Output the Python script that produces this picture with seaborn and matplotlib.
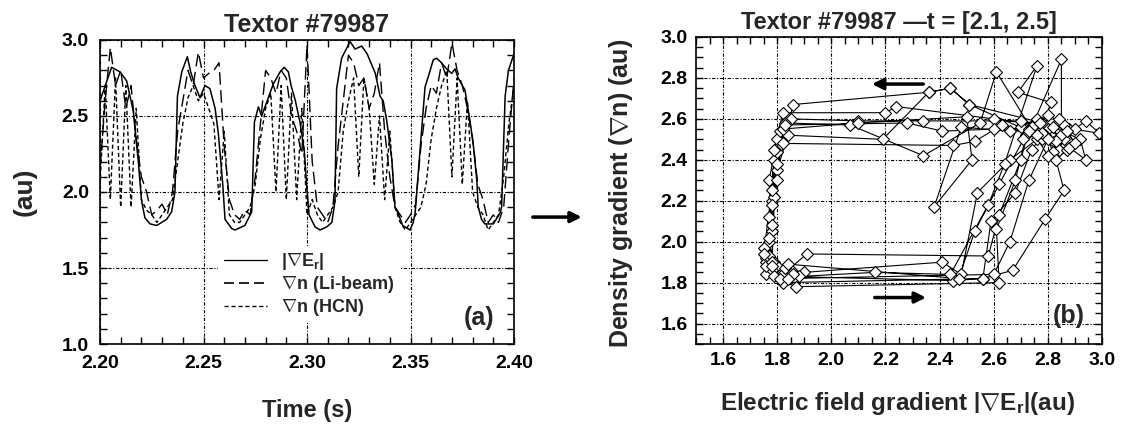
import numpy as np
import pandas as pd
import seaborn as sns
from matplotlib import pyplot as plt
from matplotlib.ticker import MultipleLocator
from matplotlib.lines import Line2D
from matplotlib.patches import FancyArrowPatch

# ---- panel (a): time traces ----
t_er = [2.2000, 2.2056, 2.2097, 2.2129, 2.2161, 2.2185, 2.2201, 2.2217, 2.2242, 2.2274,
        2.2322, 2.2346, 2.2362, 2.2374, 2.2395, 2.2422, 2.2438, 2.2459, 2.2483, 2.2507,
        2.2531, 2.2556, 2.2572, 2.2593, 2.2604, 2.2636, 2.2652, 2.2700, 2.2733, 2.2746,
        2.2765, 2.2781, 2.2805, 2.2837, 2.2870, 2.2890, 2.2910, 2.2923, 2.2942, 2.2966,
        2.2987, 2.2998, 2.3010, 2.3039, 2.3063, 2.3095, 2.3120, 2.3135, 2.3143, 2.3167,
        2.3208, 2.3232, 2.3264, 2.3290, 2.3330, 2.3353, 2.3368, 2.3385, 2.3410, 2.3425,
        2.3440, 2.3462, 2.3498, 2.3513, 2.3522, 2.3570, 2.3586, 2.3610, 2.3626, 2.3650,
        2.3674, 2.3699, 2.3715, 2.3730, 2.3763, 2.3787, 2.3804, 2.3820, 2.3827, 2.3843,
        2.3859, 2.3900, 2.3932, 2.3940, 2.3957, 2.3973, 2.4000]
er_grad = [2.60, 2.82, 2.79, 2.73, 2.53, 2.20, 1.94, 1.83, 1.79, 1.78,
           1.82, 1.87, 2.00, 2.63, 2.79, 2.89, 2.79, 2.70, 2.62, 2.70,
           2.68, 2.55, 2.38, 2.05, 1.82, 1.76, 1.75, 1.78, 1.87, 2.46,
           2.56, 2.50, 2.59, 2.71, 2.79, 2.82, 2.79, 2.70, 2.61, 2.46,
           2.27, 2.05, 1.85, 1.77, 1.75, 1.77, 1.80, 1.94, 2.68, 2.88,
           2.99, 2.94, 2.96, 2.91, 2.78, 2.63, 2.60, 2.47, 2.21, 1.90,
           1.86, 1.78, 1.75, 1.80, 1.86, 2.69, 2.76, 2.87, 2.88, 2.85,
           2.81, 2.78, 2.81, 2.75, 2.67, 2.47, 2.30, 2.08, 1.90, 1.82,
           1.79, 1.79, 1.86, 1.90, 2.63, 2.80, 2.91]

t_n = np.linspace(2.2, 2.4, 81)
n_libeam = [2.15, 2.60, 2.95, 2.70, 2.80, 2.55, 2.70, 2.35, 2.10, 2.00,
            1.85, 1.88, 1.92, 1.85, 2.00, 2.40, 2.60, 2.80, 2.70, 2.92,
            2.75, 2.78, 2.80, 2.85, 2.30, 1.95, 1.85, 1.82, 1.88, 1.85,
            2.10, 2.45, 2.80, 2.75, 2.65, 2.80, 2.75, 2.50, 2.40, 2.25,
            2.97, 2.20, 1.90, 1.85, 1.80, 1.90, 2.30, 2.60, 2.90, 2.85,
            2.70, 2.75, 2.55, 2.65, 2.85, 2.40, 2.10, 1.90, 1.85, 1.80,
            1.85, 1.92, 2.30, 2.55, 2.70, 2.65, 2.85, 2.75, 2.98, 2.80,
            2.70, 2.55, 2.35, 2.05, 1.95, 1.80, 1.85, 1.80, 1.90, 2.35,
            2.75]
n_hcn = [2.05, 2.70, 1.95, 2.75, 1.90, 2.70, 1.90, 2.55, 1.95, 1.88,
         1.85, 1.80, 1.85, 1.90, 1.95, 2.20, 2.45, 2.62, 2.70, 2.60,
         2.65, 2.55, 2.45, 1.95, 2.40, 1.85, 1.80, 1.80, 1.85, 1.90,
         2.05, 2.35, 2.55, 2.65, 2.00, 2.70, 1.95, 2.65, 1.95, 2.55,
         1.85, 1.95, 1.85, 1.80, 1.85, 1.90, 2.00, 2.40, 2.60, 2.75,
         2.10, 2.75, 2.55, 2.05, 2.50, 1.95, 2.40, 1.90, 1.80, 1.75,
         1.80, 1.85, 1.90, 2.05, 2.35, 2.55, 2.70, 2.80, 2.10, 2.75,
         2.05, 2.60, 2.00, 1.90, 1.85, 1.75, 1.80, 1.85, 2.10, 2.45,
         2.70]

# ---- panel (b): phase space trajectory ----
ps_er = [1.78, 1.76, 1.80, 1.84, 2.45, 2.56, 2.59, 2.68, 2.74, 2.80, 2.86, 2.78, 2.51, 2.44, 2.36, 1.86, 1.83, 1.80, 1.78, 1.77,
         1.79, 1.81, 1.76, 1.87, 2.62, 2.61, 2.68, 2.72, 2.76, 2.70, 2.84, 2.88, 2.60, 2.24, 2.20, 1.82, 1.80, 1.77, 1.78,
         1.75, 1.78, 1.82, 1.91, 2.58, 2.62, 2.70, 2.73, 2.79, 2.82, 2.90, 2.94, 2.99, 2.70, 2.34, 2.10, 1.85, 1.81, 1.79, 1.77,
         1.77, 1.80, 1.85, 1.90, 2.41, 2.48, 2.54, 2.66, 2.76, 2.74, 2.85, 2.85, 2.80, 2.61, 2.55, 2.34, 2.07, 1.83, 1.80, 1.79,
         1.78, 1.76, 1.83, 1.88, 2.16, 2.44, 2.58, 2.64, 2.76, 2.69, 2.81, 2.78, 2.87, 2.73, 2.51, 2.44, 2.36, 2.19, 1.84, 1.80, 1.78,
         1.76, 1.79, 1.82, 2.56, 2.67, 2.79, 2.86, 2.83, 2.88, 2.94, 2.92, 2.82, 2.66, 2.48, 2.38, 2.52, 2.50, 2.10, 1.82, 1.80, 1.77,
         1.78, 1.81, 1.86, 1.84, 2.47, 2.53, 2.62, 2.71, 2.77, 2.80, 2.86, 2.83, 2.78, 2.60, 2.41, 2.28, 1.83, 1.79, 1.78,
         1.75, 1.78, 1.84, 2.60, 2.66, 2.73, 2.80, 2.87, 2.90, 2.84, 2.76, 2.63, 2.53, 2.45, 1.82, 1.80, 1.78]
ps_n = [1.88, 1.92, 1.85, 1.83, 1.81, 1.82, 2.10, 2.24, 2.45, 2.55, 2.50, 2.58, 2.67, 2.75, 2.73, 2.67, 2.53, 2.46, 2.20, 2.00,
        1.90, 1.86, 1.84, 1.78, 1.80, 2.06, 2.30, 2.52, 2.60, 2.56, 2.45, 2.55, 2.60, 2.66, 2.63, 2.63, 2.50, 2.30, 2.05,
        1.97, 1.87, 1.84, 1.94, 1.93, 2.13, 2.40, 2.55, 2.52, 2.44, 2.55, 2.59, 2.53, 2.59, 2.59, 2.59, 2.60, 2.54, 2.40, 2.12,
        1.93, 1.88, 1.86, 1.85, 1.90, 1.84, 2.24, 2.40, 2.50, 2.56, 2.89, 2.52, 2.42, 2.83, 2.58, 2.42, 2.57, 2.58, 2.44, 2.22,
        1.86, 1.90, 1.87, 1.83, 1.85, 1.84, 2.18, 2.38, 2.86, 2.73, 2.68, 2.50, 2.45, 2.54, 2.67, 2.75, 2.73, 2.50, 2.52, 2.35, 2.08,
        1.88, 1.83, 1.80, 1.82, 1.86, 2.11, 2.25, 2.40, 2.46, 2.40, 2.50, 2.56, 2.54, 2.56, 2.17, 2.40, 2.61, 2.58, 2.55, 2.30, 2.02,
        1.90, 1.82, 1.84, 1.89, 1.82, 2.05, 2.28, 2.50, 2.58, 2.62, 2.57, 2.49, 2.53, 2.55, 2.54, 2.58, 2.57, 2.45, 2.25,
        1.94, 1.88, 1.82, 1.84, 2.00, 2.30, 2.50, 2.54, 2.48, 2.60, 2.52, 2.57, 2.49, 2.47, 2.48, 2.38, 2.18]

sns.set_style("ticks")
plt.rcParams["font.family"] = ["Liberation Sans", "DejaVu Sans"]
plt.rcParams["font.weight"] = "bold"
plt.rcParams["mathtext.fontset"] = "custom"
plt.rcParams["mathtext.rm"] = "Liberation Sans:bold"
plt.rcParams["mathtext.bf"] = "Liberation Sans:bold"
plt.rcParams["mathtext.default"] = "bf"

fig = plt.figure(figsize=(11.35, 4.29), dpi=100)
ax1 = fig.add_axes([0.0881, 0.1981, 0.3648, 0.7087])
ax2 = fig.add_axes([0.6132, 0.1981, 0.3577, 0.7157])

grid_ls = (0, (3, 1.5, 1, 1.5))
tick_fs = 14


def style_axes(ax, xmaj, xmin, ymaj, ymin, pad):
    ax.xaxis.set_major_locator(MultipleLocator(xmaj))
    ax.xaxis.set_minor_locator(MultipleLocator(xmin))
    ax.yaxis.set_major_locator(MultipleLocator(ymaj))
    ax.yaxis.set_minor_locator(MultipleLocator(ymin))
    ax.tick_params(which="both", direction="in", top=True, right=True,
                   length=5, width=1, colors="black", labelsize=tick_fs, pad=pad)
    for sp in ax.spines.values():
        sp.set_visible(True)
        sp.set_linewidth(1.2)
        sp.set_color("black")


# panel (a)
sns.lineplot(x=t_er, y=er_grad, ax=ax1, color="black", lw=1.1, estimator=None, sort=False)
sns.lineplot(x=t_n, y=n_libeam, ax=ax1, color="black", lw=1.0, estimator=None, sort=False,
             linestyle=(0, (9, 4)))
sns.lineplot(x=t_n, y=n_hcn, ax=ax1, color="black", lw=1.0, estimator=None, sort=False,
             linestyle=(0, (3, 2)))
style_axes(ax1, 0.05, 0.01, 0.5, 0.1, 8)
ax1.set_xticks([2.20, 2.25, 2.30, 2.35, 2.40])
ax1.set_yticks([1.0, 1.5, 2.0, 2.5, 3.0])
ax1.set_xticklabels(["2.20", "2.25", "2.30", "2.35", "2.40"], fontweight="bold", fontsize=tick_fs)
ax1.set_yticklabels(["1.0", "1.5", "2.0", "2.5", "3.0"], fontweight="bold", fontsize=tick_fs)
ax1.set_xlim(2.2, 2.4)
ax1.set_ylim(1.0, 3.0)
ax1.grid(True, which="major", color="black", lw=0.8, linestyle=grid_ls)
ax1.set_title("Textor #79987", fontsize=18, fontweight="bold", pad=6)
ax1.set_xlabel("Time (s)", fontsize=17, fontweight="bold")
ax1.xaxis.set_label_coords(0.5, -0.18)
ax1.set_ylabel("(au)", fontsize=19, fontweight="bold")
ax1.yaxis.set_label_coords(-0.152, 0.5)
handles = [Line2D([], [], color="black", lw=0.9),
           Line2D([], [], color="black", lw=1.2, linestyle=(0, (6, 3))),
           Line2D([], [], color="black", lw=1.0, linestyle=(0, (3, 2)))]
labels = [r"|$\nabla$E$_\mathbf{r}$|", r"$\nabla$n (Li-beam)", r"$\nabla$n (HCN)"]
ax1.legend(handles, labels, loc="center", bbox_to_anchor=(0.505, 0.195), frameon=True,
           facecolor="white", edgecolor="none", framealpha=1, fancybox=False,
           handlelength=2.4, handletextpad=0.8, labelspacing=0.1, borderpad=0.3,
           prop={"weight": "bold", "size": 13})
ax1.text(0.915, 0.085, "(a)", transform=ax1.transAxes, ha="center", va="center",
         fontsize=18, fontweight="bold")

# panel (b)
sns.lineplot(x=ps_er, y=ps_n, ax=ax2, sort=False, estimator=None, color="black", lw=0.8,
             marker="D", markersize=6, markerfacecolor="white", markeredgecolor="black",
             markeredgewidth=0.8)
style_axes(ax2, 0.2, 0.05, 0.2, 0.05, 6)
ticks_b = [1.6, 1.8, 2.0, 2.2, 2.4, 2.6, 2.8, 3.0]
ax2.set_xticks(ticks_b)
ax2.set_yticks(ticks_b)
ax2.set_xticklabels([f"{v:.1f}" for v in ticks_b], fontweight="bold", fontsize=tick_fs)
ax2.set_yticklabels([f"{v:.1f}" for v in ticks_b], fontweight="bold", fontsize=tick_fs)
ax2.set_xlim(1.5, 3.0)
ax2.set_ylim(1.5, 3.0)
ax2.grid(True, which="major", color="black", lw=0.8, linestyle=grid_ls)
ax2.set_title("Textor #79987 \u2014t = [2.1, 2.5]", fontsize=17, fontweight="bold", pad=6)
ax2.set_xlabel(r"Electric field gradient $\left|\nabla\mathbf{E}_\mathbf{r}\right|$(au)",
               fontsize=17.5, fontweight="bold")
ax2.xaxis.set_label_coords(0.495, -0.15)
ax2.set_ylabel(r"Density gradient ($\nabla$n) (au)", fontsize=18, fontweight="bold")
ax2.yaxis.set_label_coords(-0.15, 0.49)
ax2.annotate("", xy=(2.14, 2.77), xytext=(2.35, 2.77),
             arrowprops=dict(arrowstyle="-|>", lw=2.5, color="black", mutation_scale=16))
ax2.annotate("", xy=(2.36, 1.727), xytext=(2.15, 1.727),
             arrowprops=dict(arrowstyle="-|>", lw=2.5, color="black", mutation_scale=16))
ax2.text(0.919, 0.091, "(b)", transform=ax2.transAxes, ha="center", va="center",
         fontsize=18, fontweight="bold")

# arrow between the panels
fig.patches.append(FancyArrowPatch(
    (0.467, 0.494), (0.515, 0.494), transform=fig.transFigure,
    arrowstyle="-|>", lw=2.5, color="black", mutation_scale=16))

fig.savefig("out.png", dpi=100)
